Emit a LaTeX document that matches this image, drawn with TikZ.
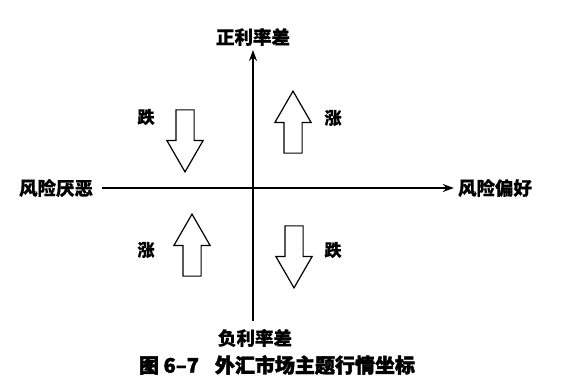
\documentclass[tikz,border=0pt]{standalone}
\usepackage{fontspec}
\setmainfont[FakeBold=0.4]{Noto Sans CJK SC}
\newfontfamily\capfont[FakeBold=2]{Noto Sans CJK SC}
\usetikzlibrary{arrows.meta, shapes.arrows}

\begin{document}
\begin{tikzpicture}[x=1pt, y=1pt,
    axisLabel/.style={font=\fontsize{18.5}{18.5}\selectfont\bfseries, inner sep=4pt},
    moveLabel/.style={font=\fontsize{17}{17}\selectfont\bfseries},
    axisLine/.style={-{Stealth[length=11pt, width=8pt]}, line width=1.5pt},
    upArrow/.style={single arrow, draw, line width=1.2pt, minimum height=62pt, inner sep=8.5pt, single arrow head extend=9pt, single arrow tip angle=60, rotate=90},
    downArrow/.style={upArrow, rotate=180}
]
    \useasboundingbox (0,0) rectangle (573,388);

    % Axis Labels
    \node[axisLabel] (riskoff) at (56,200)  {风险厌恶};
    \node[axisLabel] (riskon)  at (495,200) {风险偏好};
    \node[axisLabel] (posdiff) at (253,351) {正利率差};
    \node[axisLabel] (negdiff) at (255,50)  {负利率差};

    % Axes
    \draw[axisLine, shorten <=5pt] (riskoff) -- (riskon);
    \draw[axisLine, shorten <=4pt] (negdiff.north -| 253,0) -- (posdiff.south -| 253,0);

    % Quadrant Arrows
    \node[downArrow] (tlarrow) at (185,255) {};
    \node[upArrow]   (trarrow) at (293,258) {};
    \node[upArrow]   (blarrow) at (192,135) {};
    \node[downArrow] (brarrow) at (294,139) {};

    % Quadrant Labels
    \node[moveLabel] (tlfall) at (146,271) {跌};
    \node[moveLabel] (trrise) at (333,270) {涨};
    \node[moveLabel] (blrise) at (146,138) {涨};
    \node[moveLabel] (brfall) at (333,138) {跌};

    % Caption
    \node[font=\fontsize{20}{20}\selectfont\capfont\bfseries] (caption) at (277,23) {图 6–7\hspace{16pt}外汇市场主题行情坐标};
\end{tikzpicture}
\end{document}
